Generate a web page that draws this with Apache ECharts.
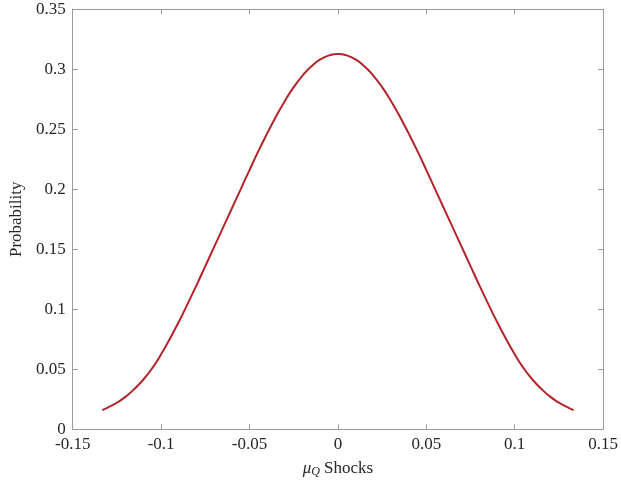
<!DOCTYPE html>
<html>
<head>
<meta charset="utf-8">
<script src="https://cdn.jsdelivr.net/npm/echarts@6/dist/echarts.min.js"></script>
<style>
html,body{margin:0;padding:0;background:#fff;}
#chart{width:621px;height:485px;}
</style>
</head>
<body>
<div id="chart"></div>
<script>
const shocksLeft = [-0.1333,-0.13,-0.125,-0.12,-0.115,-0.11,-0.105,-0.10,-0.095,-0.09,-0.085,-0.08,-0.075,-0.07,
                    -0.065,-0.06,-0.055,-0.05,-0.045,-0.04,-0.035,-0.03,-0.025,-0.02,-0.015,-0.01,-0.005,0];
const probLeft = [0.016,0.0183,0.0222,0.0272,0.0338,0.0415,0.051,0.0625,0.0755,0.0895,0.1045,0.120,0.136,0.152,
                  0.168,0.184,0.200,0.216,0.2318,0.2466,0.2607,0.2736,0.2851,0.2948,0.3025,0.3082,0.3116,0.3128];
const shocksRight = [0.005,0.01,0.015,0.02,0.025,0.03,0.035,0.04,0.045,0.05,0.055,0.06,0.065,0.07,
                     0.075,0.08,0.085,0.09,0.095,0.10,0.105,0.11,0.115,0.12,0.125,0.13,0.1333];
const probRight = [0.3116,0.3082,0.3025,0.2948,0.2851,0.2736,0.2607,0.2466,0.2318,0.216,0.200,0.184,0.168,0.152,
                   0.136,0.120,0.1045,0.0895,0.0755,0.0625,0.051,0.0415,0.0338,0.0272,0.0222,0.0183,0.016];
const xTicks = [-0.15,-0.1,-0.05,0,0.05,0.1,0.15];
const yTicks = [0,0.05,0.1,0.15,0.2,0.25,0.3,0.35];

const shocks = shocksLeft.concat(shocksRight);
const probability = probLeft.concat(probRight);

const font = "'Liberation Serif', 'DejaVu Serif', serif";
const axisColor = '#9a9a9a';
const textColor = '#262626';

const chart = echarts.init(document.getElementById('chart'), null, {renderer:'canvas'});
function fmt(v){ return String(parseFloat(v.toFixed(2))); }
const common = {
  axisLine:{show:true, onZero:false, lineStyle:{color:axisColor, width:1}},
  axisTick:{show:true, inside:true, length:5, lineStyle:{color:axisColor, width:1}},
  splitLine:{show:false}
};
chart.setOption({
  animation:false,
  grid:{left:72.7, right:14.5, top:9.3, bottom:55.7, containLabel:false},
  xAxis:[
    Object.assign({type:'value', min:xTicks[0], max:xTicks[xTicks.length-1], interval:0.05, position:'bottom',
      axisLabel:{color:textColor, fontFamily:font, fontSize:17, margin:7, formatter:fmt},
      name:'{mu|μ}{sub|Q} Shocks', nameLocation:'middle', nameGap:29,
      nameTextStyle:{color:textColor, fontFamily:font, fontSize:17,
        rich:{mu:{fontFamily:font, fontSize:17, fontStyle:'italic', color:textColor},
              sub:{fontFamily:font, fontSize:12, fontStyle:'italic', color:textColor, verticalAlign:'bottom', padding:[8,0,0,0]}}}
    }, common),
    Object.assign({type:'value', min:xTicks[0], max:xTicks[xTicks.length-1], interval:0.05, position:'top',
      axisLabel:{show:false}}, common)
  ],
  yAxis:[
    Object.assign({type:'value', min:yTicks[0], max:yTicks[yTicks.length-1], interval:0.05, position:'left',
      axisLabel:{color:textColor, fontFamily:font, fontSize:17, margin:7, formatter:fmt},
      name:'Probability', nameLocation:'middle', nameGap:43, nameRotate:90,
      nameTextStyle:{color:textColor, fontFamily:font, fontSize:17}
    }, common),
    Object.assign({type:'value', min:yTicks[0], max:yTicks[yTicks.length-1], interval:0.05, position:'right',
      axisLabel:{show:false}}, common)
  ],
  series:[{
    type:'line', xAxisIndex:0, yAxisIndex:0,
    data: shocks.map((x,i)=>[x, probability[i]]),
    smooth:0.5, showSymbol:false, symbol:'none',
    lineStyle:{color:'#b3242a', width:2},
    itemStyle:{color:'#b3242a'}
  }]
});
</script>
</body>
</html>
